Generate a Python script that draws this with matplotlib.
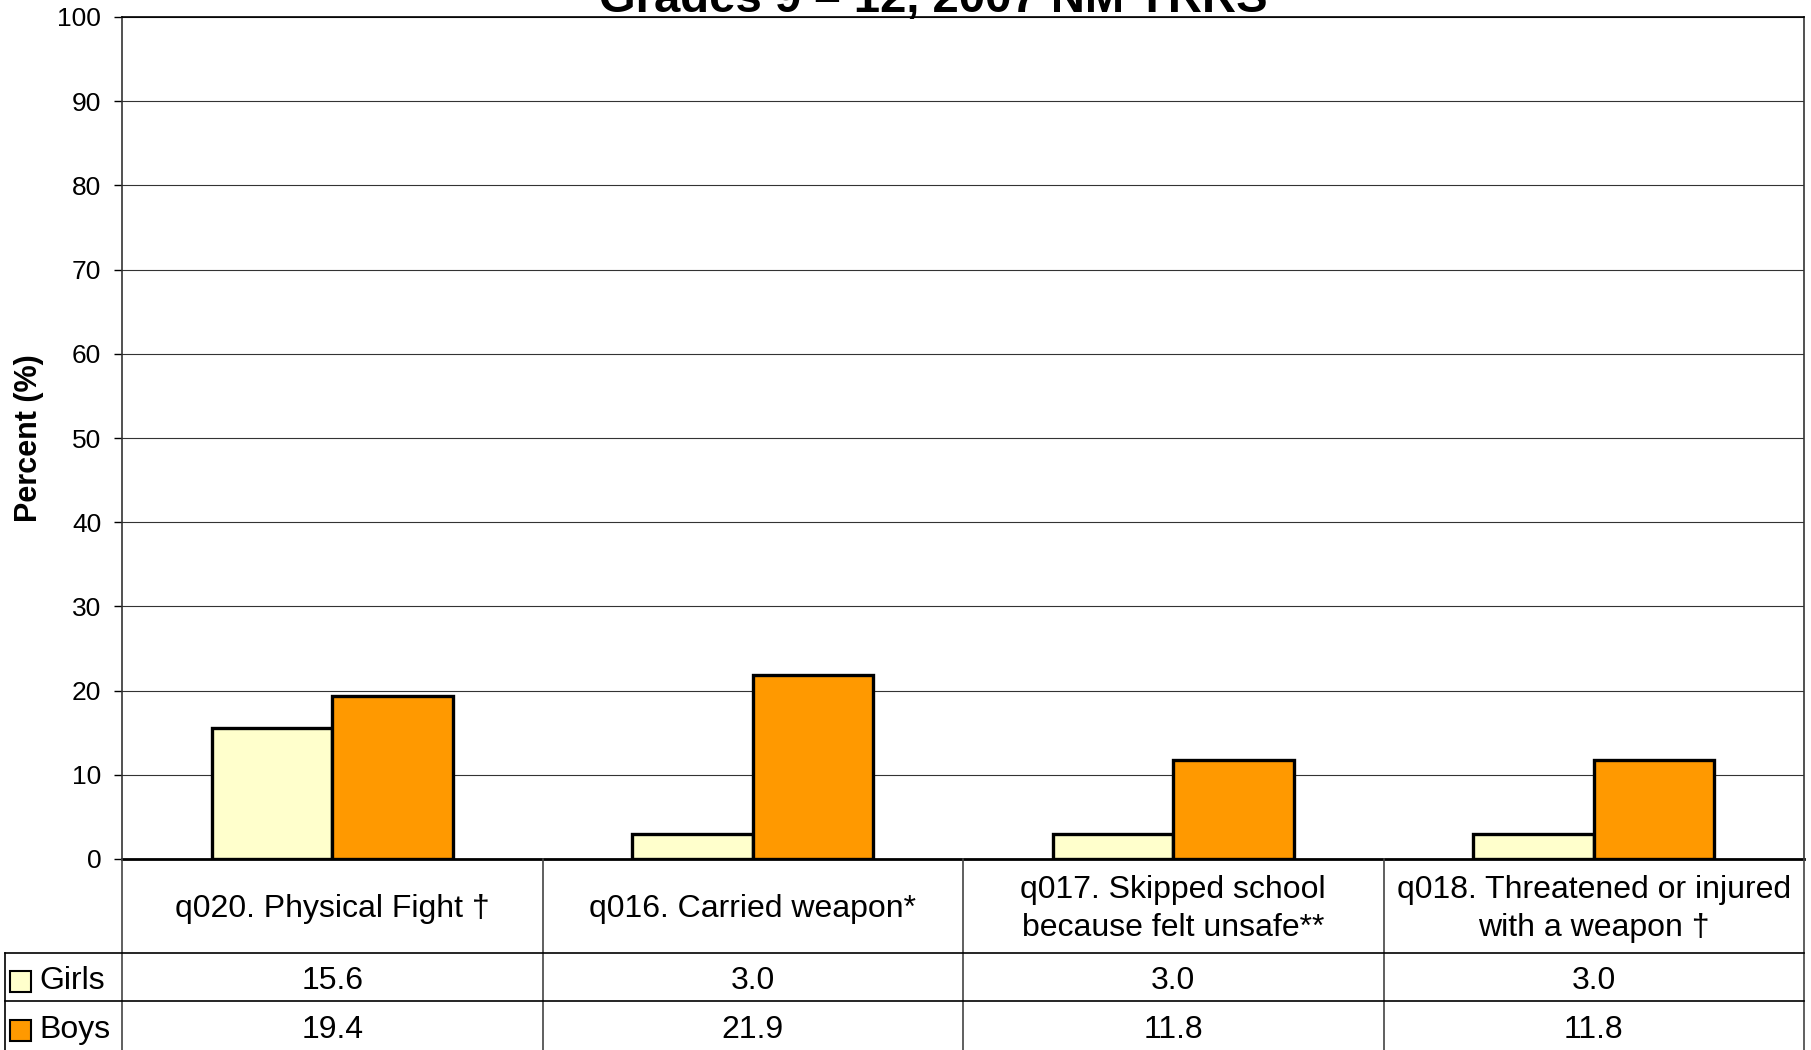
import numpy as np
import matplotlib
matplotlib.use('Agg')
import matplotlib.pyplot as plt
import matplotlib.transforms as mtransforms
from matplotlib.lines import Line2D
from matplotlib.patches import Rectangle

plt.rcParams['font.family'] = ['Liberation Sans', 'DejaVu Sans']

# data
categories = ['q020. Physical Fight \u2020',
              'q016. Carried weapon*',
              'q017. Skipped school\nbecause felt unsafe**',
              'q018. Threatened or injured\nwith a weapon \u2020']
series_names = ['Girls', 'Boys']
girls = [15.6, 3.0, 3.0, 3.0]
boys = [19.4, 21.9, 11.8, 11.8]
yticks = list(range(0, 101, 10))

GIRL_COL = '#FFFFCC'
BOY_COL = '#FF9900'

W, H = 1811, 1050
fig = plt.figure(figsize=(W/100, H/100), dpi=100)

def fy(py):
    # pixel row (from top) -> figure fraction
    return (H - py)/H

def fx(px):
    return px/W

ax = fig.add_axes([fx(122), fy(859), fx(1804)-fx(122), fy(17)-fy(859)])

x = np.arange(len(categories))
bw = 0.286
ax.bar(x - bw, girls, width=bw, align='edge', color=GIRL_COL, edgecolor='black', linewidth=2.4, zorder=3)
ax.bar(x, boys, width=bw, align='edge', color=BOY_COL, edgecolor='black', linewidth=2.4, zorder=3)

ax.set_xlim(-0.5, len(categories) - 0.5)
ax.set_ylim(0, 100)
ax.set_yticks(yticks)
ax.tick_params(axis='y', labelsize=19, length=6, width=1, pad=9, direction='out')
ax.set_xticks([])
ax.yaxis.grid(True, color='#333333', linewidth=0.8, zorder=0)
ax.set_axisbelow(True)
for s in ['top', 'right', 'left']:
    ax.spines[s].set_linewidth(1.2)
ax.spines['top'].set_color('black')
ax.spines['left'].set_color('#333333')
ax.spines['right'].set_color('#333333')
ax.spines['bottom'].set_linewidth(2)

# y label
fig.text(fx(29), (fy(17) + fy(859))/2, 'Percent (%)', rotation=90, ha='center', va='center',
         fontsize=22, fontweight='bold')

# title (top of it runs off the figure, as in the source)
fig.text(fx(933), fy(12), 'Grades 9 \u2013 12, 2007 NM YRRS', ha='center', va='baseline',
         fontsize=34, fontweight='bold')

# data table under the plot
bt = mtransforms.blended_transform_factory(ax.transData, fig.transFigure)
lo, hi = ax.get_xlim()
for k in range(len(categories) + 1):
    fig.add_artist(Line2D([lo + k, lo + k], [fy(859), fy(1050)], transform=bt,
                          color='#444444', linewidth=1.2))
for py in [953, 1001]:
    fig.add_artist(Line2D([fx(5), fx(1804)], [fy(py), fy(py)], transform=fig.transFigure,
                          color='black', linewidth=1.2))
fig.add_artist(Line2D([fx(5), fx(5)], [fy(953), fy(1050)], transform=fig.transFigure,
                      color='black', linewidth=1.2))

for i, c in enumerate(categories):
    fig.text(x[i], fy(909), c, transform=bt, ha='center', va='center', fontsize=23, linespacing=1.32)
for i in range(len(categories)):
    fig.text(x[i], fy(981), f'{girls[i]:.1f}', transform=bt, ha='center', va='center', fontsize=23)
    fig.text(x[i], fy(1030), f'{boys[i]:.1f}', transform=bt, ha='center', va='center', fontsize=23)

for name, col, py in [(series_names[0], GIRL_COL, 981), (series_names[1], BOY_COL, 1030)]:
    fig.add_artist(Rectangle((fx(10), fy(py + 11)), fx(21), 21/H, transform=fig.transFigure,
                             facecolor=col, edgecolor='black', linewidth=1.5))
    fig.text(fx(39), fy(py), name, ha='left', va='center', fontsize=23)

fig.savefig('out.png', dpi=100)
